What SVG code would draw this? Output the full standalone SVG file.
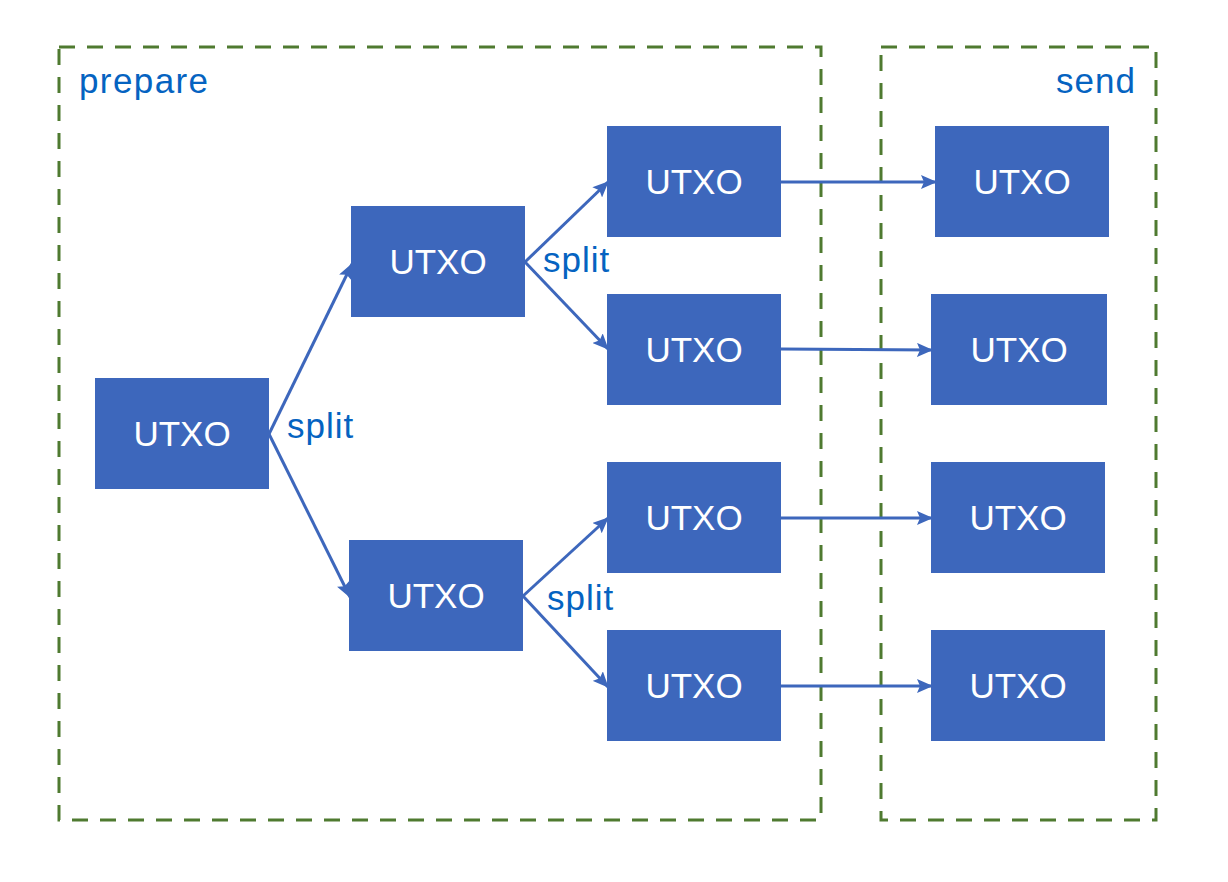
<svg xmlns="http://www.w3.org/2000/svg" width="1228" height="882" viewBox="0 0 1228 882">
<style>
.grp{fill:none;stroke:#4F7A30;stroke-width:3;stroke-dasharray:16 12}
.box{fill:#3D67BC}
.nt{font-family:"Liberation Sans",Arial,sans-serif;font-size:35px;fill:#ffffff;text-anchor:middle}
.lbl{font-family:"Liberation Sans",Arial,sans-serif;font-size:35px;fill:#0563C1;letter-spacing:1px}
.con{fill:none;stroke:#3D67BC;stroke-width:3;marker-end:url(#ah)}
</style>
<defs>
<marker id="ah" markerWidth="16" markerHeight="14" refX="15" refY="7" orient="auto" markerUnits="userSpaceOnUse">
<path d="M0,0 L16,7 L0,14 L3,7 Z" fill="#3D67BC"/>
</marker>
</defs>
<rect width="1228" height="882" fill="#ffffff"/>
<g id="prepare">
<rect class="grp" x="59" y="47" width="762" height="773"/>
<text class="lbl" x="79" y="93" style="letter-spacing:1.4px">prepare</text>
</g>
<g id="send">
<rect class="grp" x="881" y="47" width="275" height="773"/>
<text class="lbl" x="1136" y="93" text-anchor="end">send</text>
</g>
<g id="connectors">
<line class="con" x1="269" y1="434" x2="352" y2="264"/>
<line class="con" x1="269" y1="434" x2="350" y2="597"/>
<line class="con" x1="525" y1="262" x2="608" y2="182"/>
<line class="con" x1="525" y1="262" x2="608" y2="349"/>
<line class="con" x1="523" y1="596" x2="608" y2="518"/>
<line class="con" x1="523" y1="596" x2="608" y2="687"/>
<line class="con" x1="781" y1="182" x2="936" y2="182"/>
<line class="con" x1="781" y1="349" x2="932" y2="350"/>
<line class="con" x1="781" y1="518" x2="932" y2="518"/>
<line class="con" x1="781" y1="686" x2="932" y2="686"/>
<text class="lbl" x="287" y="438">split</text>
<text class="lbl" x="543" y="272">split</text>
<text class="lbl" x="547" y="610">split</text>
</g>
<g id="n0"><rect class="box" x="95" y="378" width="174" height="111"/><text class="nt" x="182" y="446">UTXO</text></g>
<g id="n1"><rect class="box" x="351" y="206" width="174" height="111"/><text class="nt" x="438" y="274">UTXO</text></g>
<g id="n2"><rect class="box" x="349" y="540" width="174" height="111"/><text class="nt" x="436" y="608">UTXO</text></g>
<g id="n3"><rect class="box" x="607" y="126" width="174" height="111"/><text class="nt" x="694" y="194">UTXO</text></g>
<g id="n4"><rect class="box" x="607" y="294" width="174" height="111"/><text class="nt" x="694" y="362">UTXO</text></g>
<g id="n5"><rect class="box" x="607" y="462" width="174" height="111"/><text class="nt" x="694" y="530">UTXO</text></g>
<g id="n6"><rect class="box" x="607" y="630" width="174" height="111"/><text class="nt" x="694" y="698">UTXO</text></g>
<g id="s1"><rect class="box" x="935" y="126" width="174" height="111"/><text class="nt" x="1022" y="194">UTXO</text></g>
<g id="s2"><rect class="box" x="931" y="294" width="176" height="111"/><text class="nt" x="1019" y="362">UTXO</text></g>
<g id="s3"><rect class="box" x="931" y="462" width="174" height="111"/><text class="nt" x="1018" y="530">UTXO</text></g>
<g id="s4"><rect class="box" x="931" y="630" width="174" height="111"/><text class="nt" x="1018" y="698">UTXO</text></g>
</svg>
